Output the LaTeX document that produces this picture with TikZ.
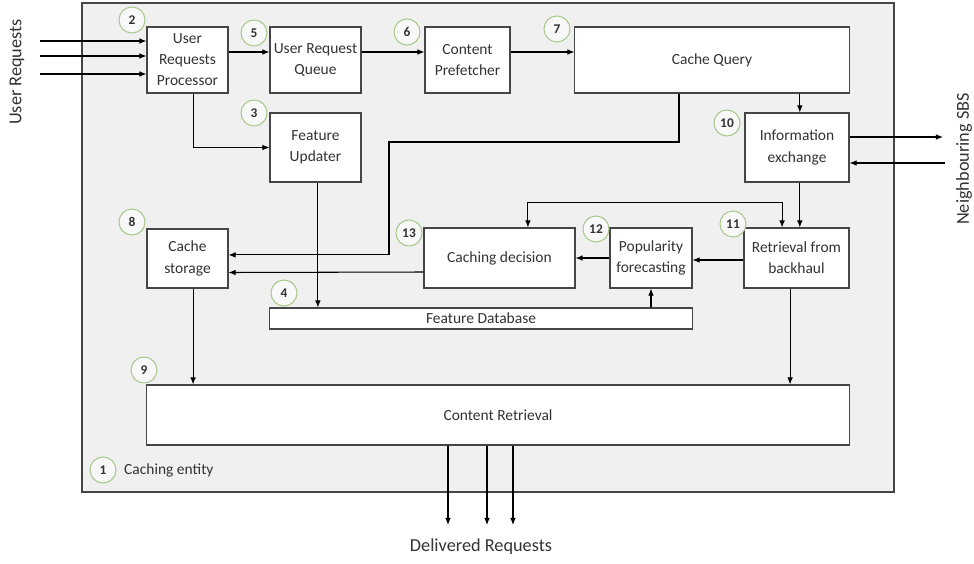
\documentclass[tikz,border=0pt]{standalone}
\usepackage{fontspec}
\setmainfont{Carlito}
\usetikzlibrary{arrows.meta}
\definecolor{entity}{RGB}{240,240,240}
\definecolor{ring}{RGB}{169,200,140}
\definecolor{edge}{RGB}{70,70,70}
\tikzset{
  box/.style={draw=edge,fill=white,align=center,inner sep=1pt,font=\fontsize{11}{15}\selectfont},
  num/.style={circle,draw=ring,fill=white!50!entity,minimum size=0.65cm,inner sep=0pt,
    font=\fontsize{9.5}{10}\selectfont\bfseries},
  outlbl/.style={font=\fontsize{13}{15}\selectfont}
}
\begin{document}
\begin{tikzpicture}[>={Latex[length=5pt,width=4pt]},x=0.025cm,y=-0.025cm,line width=0.75pt,
  every node/.style={text=black!80}]
\useasboundingbox (0,0) rectangle (974,564);
% caching entity
\draw[draw=edge,fill=entity] (82,3) rectangle (894,492);
\node[num] (n1) at (103,470) {1};
\node[anchor=west,font=\fontsize{11}{13}\selectfont] (ent) at (119,470) {Caching entity};
% blocks
\node[box,minimum width=2.025cm,minimum height=1.65cm] (urp) at (187.5,60) {User\\Requests\\Processor};
\node[box,minimum width=2.275cm,minimum height=1.65cm] (urq) at (315.5,60) {User Request\\Queue};
\node[box,minimum width=2.125cm,minimum height=1.65cm] (cp) at (467.5,60) {Content\\Prefetcher};
\node[box,minimum width=6.85cm,minimum height=1.65cm] (cq) at (712,60) {Cache Query};
\node[box,minimum width=2.275cm,minimum height=1.725cm] (fu) at (315.5,147.5) {Feature\\Updater};
\node[box,minimum width=2.6cm,minimum height=1.725cm] (ie) at (797,147.5) {Information\\exchange};
\node[box,minimum width=2.025cm,minimum height=1.475cm] (cs) at (187.5,258.5) {Cache\\storage};
\node[box,minimum width=3.775cm,minimum height=1.5cm] (cd) at (499.5,258) {Caching decision};
\node[box,minimum width=2.05cm,minimum height=1.5cm] (pf) at (651,258) {Popularity\\forecasting};
\node[box,minimum width=2.625cm,minimum height=1.5cm] (rb) at (796.5,258) {Retrieval from\\backhaul};
\node[box,minimum width=10.55cm,minimum height=0.525cm,inner sep=0pt] (fdb) at (481,318.5) {Feature Database};
\node[box,minimum width=17.55cm,minimum height=1.5cm] (cr) at (498,415) {Content Retrieval};
% numbers
\node[num] (n2) at (132,20) {2};
\node[num] (n3) at (254,113) {3};
\node[num] (n4) at (284,293) {4};
\node[num] (n5) at (254,33) {5};
\node[num] (n6) at (407,32) {6};
\node[num] (n7) at (557,29) {7};
\node[num] (n8) at (132,222) {8};
\node[num] (n9) at (144,370) {9};
\node[num] (n10) at (727,123) {10};
\node[num] (n11) at (733,224) {11};
\node[num] (n12) at (596,229) {12};
\node[num] (n13) at (409,233) {13};
% outside labels
\node[outlbl,rotate=90] (ureq) at (17,72) {User Requests};
\node[outlbl,rotate=90] (nsbs) at (964,159) {Neighbouring SBS};
\node[outlbl] (dreq) at (481,547) {Delivered Requests};
% incoming requests
\foreach \y [count=\i] in {41,56,74} {
  \coordinate (in\i) at (40,\y);
  \draw[->] (in\i) -- (in\i -| urp.west);
}
\draw[->] ([yshift=0.2cm]urp.east) -- ([yshift=0.2cm]urq.west);
\draw[->] ([yshift=0.2cm]urq.east) -- ([yshift=0.2cm]cp.west);
\draw[->] ([yshift=0.2cm]cp.east) -- ([yshift=0.2cm]cq.west);
\draw[->] ([xshift=0.14cm]urp.south) |- (fu.west);
\draw[->] ([xshift=0.06cm]fu.south) -- ([xshift=0.06cm]fu.south |- fdb.north);
\draw[->] ([xshift=0.07cm]ie.north |- cq.south) -- ([xshift=0.07cm]ie.north);
\draw[->] ([xshift=-0.825cm]cq.south) |- (389,142) |- ([yshift=0.09cm]cs.east);
\draw[->] ([yshift=-0.35cm]cd.west) -- ([yshift=-0.35cm]cs.east);
\draw[->] (pf.west) -- (cd.east);
\draw[->] ([yshift=-0.05cm]rb.west) -- ([yshift=-0.05cm]pf.east);
\draw[->] (pf.south |- fdb.north) -- (pf.south);
\draw[->] ([xshift=0.07cm]ie.south) -- ([xshift=0.07cm]ie.south |- rb.north);
\draw[<->] ([xshift=0.71cm]cd.north) -- ++(0,-25) -| ([xshift=-0.36cm]rb.north);
% neighbouring SBS
\coordinate (out1) at (943,137);
\coordinate (out2) at (945,163);
\draw[->] (out1 -| ie.east) -- (out1);
\draw[->] (out2) -- (out2 -| ie.east);
% to content retrieval
\draw[->] ([xshift=0.14cm]cs.south) -- ([xshift=0.14cm]cs.south |- cr.north);
\draw[->] ([xshift=-0.16cm]rb.south) -- ([xshift=-0.16cm]rb.south |- cr.north);
% delivered requests
\foreach \x [count=\i] in {448,487,513} {
  \coordinate (d\i) at (\x,525);
  \draw[->] (d\i |- cr.south) -- (d\i);
}
\end{tikzpicture}
\end{document}
